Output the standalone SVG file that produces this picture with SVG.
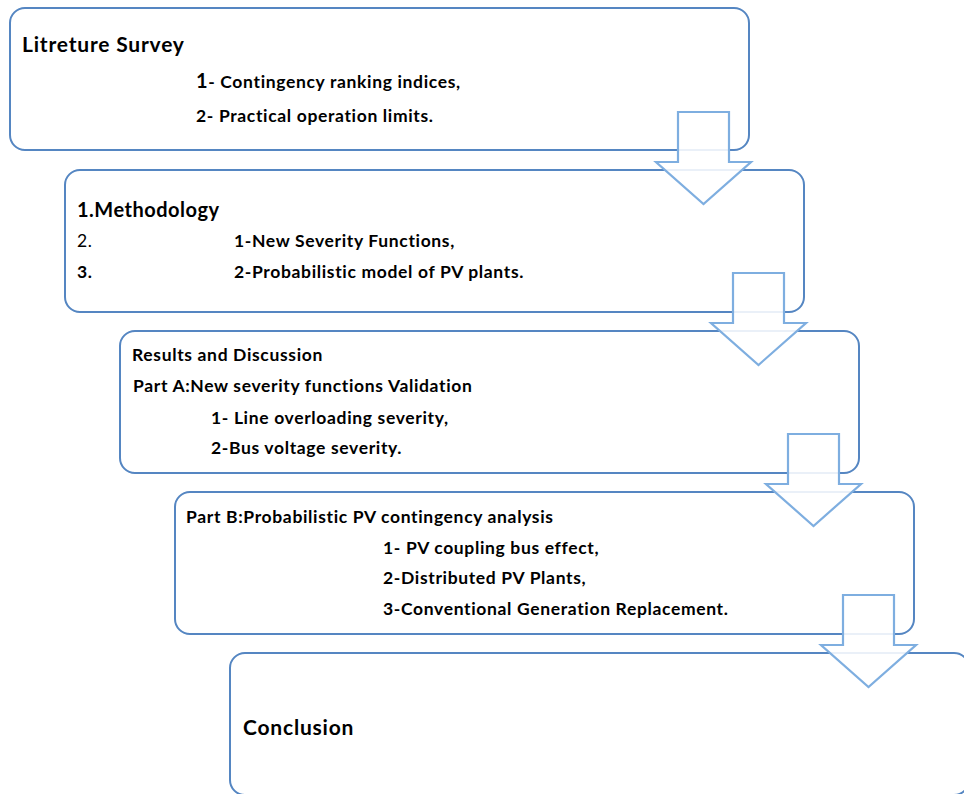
<svg xmlns="http://www.w3.org/2000/svg" xmlns:xlink="http://www.w3.org/1999/xlink" width="964" height="794" viewBox="0 0 964 794">
<style>
.box{fill:#ffffff;stroke:#5586c2;stroke-width:2}
.arr{fill:#ffffff;fill-opacity:0.88;stroke:#7eaee0;stroke-width:2.2;stroke-linejoin:miter}
text{font-family:Lato,"Open Sans","Liberation Sans",sans-serif;fill:#000000}
.h{font-size:21px;font-weight:bold;letter-spacing:0.8px}
.b{font-size:17.5px;font-weight:bold;letter-spacing:0.65px}
.r{font-size:17.5px;font-weight:normal;letter-spacing:0.65px}
.big{font-size:20px}
</style>
<defs>
<polygon id="arrow" points="678,112 729,112 729,162 751,162 703.5,204 656,162 678,162"/>
</defs>
<rect width="964" height="794" fill="#ffffff"/>
<g id="node-literature">
<rect class="box" x="10" y="8" width="739" height="142" rx="15"/>
<text class="h" x="22" y="52">Litreture Survey</text>
<text class="b" x="196" y="88"><tspan class="big">1</tspan>- Contingency ranking indices,</text>
<text class="b" x="196" y="122">2- Practical operation limits.</text>
</g>
<g id="node-methodology">
<rect class="box" x="65" y="170" width="739" height="142" rx="15"/>
<text class="h" x="77" y="217" style="font-size:20px;letter-spacing:0.5px">1.Methodology</text>
<text class="r" x="77" y="247">2.</text>
<text class="b" x="234" y="247">1-New Severity Functions,</text>
<text class="b" x="77" y="278">3.</text>
<text class="b" x="234" y="278">2-Probabilistic model of PV plants.</text>
</g>
<g id="node-results">
<rect class="box" x="120" y="331" width="739" height="142" rx="15"/>
<text class="b" x="132" y="361">Results and Discussion</text>
<text class="b" x="133" y="392">Part A:New severity functions Validation</text>
<text class="b" x="211" y="424">1- Line overloading severity,</text>
<text class="b" x="211" y="454">2-Bus voltage severity.</text>
</g>
<g id="node-partb">
<rect class="box" x="175" y="492" width="739" height="142" rx="15"/>
<text class="b" x="186" y="523">Part B:Probabilistic PV contingency analysis</text>
<text class="b" x="383" y="554">1- PV coupling bus effect,</text>
<text class="b" x="383" y="584">2-Distributed PV Plants,</text>
<text class="b" x="383" y="615">3-Conventional Generation Replacement.</text>
</g>
<g id="node-conclusion">
<rect class="box" x="230" y="653" width="739" height="142" rx="15"/>
<text class="h" x="243" y="735">Conclusion</text>
</g>
<g id="connectors">
<use xlink:href="#arrow" class="arr"/>
<use xlink:href="#arrow" class="arr" transform="translate(55,161)"/>
<use xlink:href="#arrow" class="arr" transform="translate(110,322)"/>
<use xlink:href="#arrow" class="arr" transform="translate(165,483)"/>
</g>
</svg>
